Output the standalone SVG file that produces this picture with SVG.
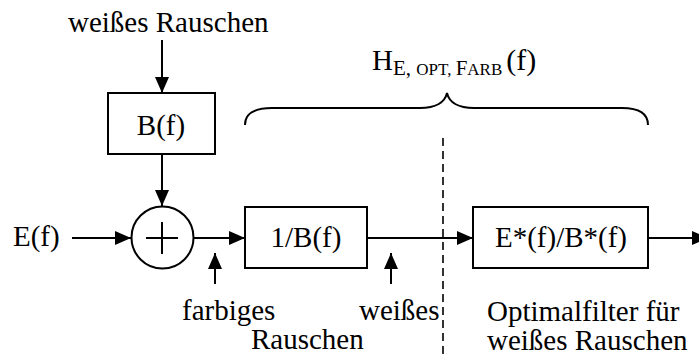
<svg xmlns="http://www.w3.org/2000/svg" width="699" height="356" viewBox="0 0 699 356">
  <defs>
    <marker id="arrow" markerUnits="userSpaceOnUse" markerWidth="16" markerHeight="16" viewBox="0 0 16 14" refX="16" refY="7" orient="auto">
      <path d="M0,0 L16,7 L0,14 Z" fill="#000"/>
    </marker>
  </defs>
  <style>
    text { font-family: "Liberation Serif", "Times New Roman", serif; font-size: 29px; fill: #000; }
    .box { fill: none; stroke: #000; stroke-width: 2; }
    .wire { fill: none; stroke: #000; stroke-width: 2; marker-end: url(#arrow); }
    .plain { fill: none; stroke: #000; stroke-width: 2; }
    .mid { text-anchor: middle; }
    .sc-big { font-size: 21px; }
    .sc-small { font-size: 17px; }
  </style>

  <rect width="699" height="356" fill="#fff"/>

  <!-- connectors -->
  <g id="connectors">
    <line class="wire" x1="162" y1="40" x2="162" y2="93"/>
    <line class="wire" x1="162" y1="154" x2="162" y2="206"/>
    <line class="wire" x1="72" y1="238" x2="131" y2="238"/>
    <line class="wire" x1="193" y1="238" x2="245" y2="238"/>
    <line class="wire" x1="367" y1="238" x2="473" y2="238"/>
    <line class="wire" x1="648" y1="238" x2="708" y2="238"/>
    <line class="wire" x1="215" y1="284" x2="215" y2="253"/>
    <line class="wire" x1="391" y1="284" x2="391" y2="253"/>
  </g>

  <!-- noise source label -->
  <g id="noise-in">
    <text x="68" y="32">weißes Rauschen</text>
  </g>

  <!-- shaping filter -->
  <g id="shaping-filter">
    <rect class="box" x="108" y="93" width="107" height="61"/>
    <text class="mid" x="161" y="135">B(f)</text>
  </g>

  <!-- signal input -->
  <g id="signal-in">
    <text x="13" y="246">E(f)</text>
  </g>

  <!-- summing junction -->
  <g id="adder">
    <circle class="box" cx="162.5" cy="237.5" r="31"/>
    <line class="plain" x1="146" y1="238" x2="178" y2="238"/>
    <line class="plain" x1="162" y1="222" x2="162" y2="254"/>
  </g>

  <!-- whitening filter -->
  <g id="whitening-filter">
    <rect class="box" x="245" y="207" width="122" height="61"/>
    <text class="mid" x="306" y="247">1/B(f)</text>
  </g>

  <!-- matched filter for white noise -->
  <g id="matched-filter">
    <rect class="box" x="473" y="207" width="175" height="61"/>
    <text class="mid" x="561" y="247">E*(f)/B*(f)</text>
  </g>

  <!-- overall transfer function bracket -->
  <g id="brace">
    <path class="plain" d="M245,125 C245,114 254,108 272,108 L420,108 C436,108 445,102 447,93 C449,102 458,108 474,108 L622,108 C640,108 648,114 648,125"/>
    <text x="372" y="70">H<tspan class="sc-big" dy="5">E, </tspan><tspan class="sc-small">OPT, </tspan><tspan class="sc-big">F</tspan><tspan class="sc-small">ARB</tspan><tspan dy="-5" dx="4" font-size="30">(f)</tspan></text>
  </g>

  <!-- separation line -->
  <g id="divider">
    <line x1="443" y1="138" x2="443" y2="356" stroke="#000" stroke-width="1.6" stroke-dasharray="8 5"/>
  </g>

  <!-- annotations -->
  <g id="labels">
    <text x="182" y="320">farbiges</text>
    <text x="251" y="349">Rauschen</text>
    <text x="359" y="320">weißes</text>
    <text x="487" y="321">Optimalfilter für</text>
    <text x="487" y="350">weißes Rauschen</text>
  </g>
</svg>
